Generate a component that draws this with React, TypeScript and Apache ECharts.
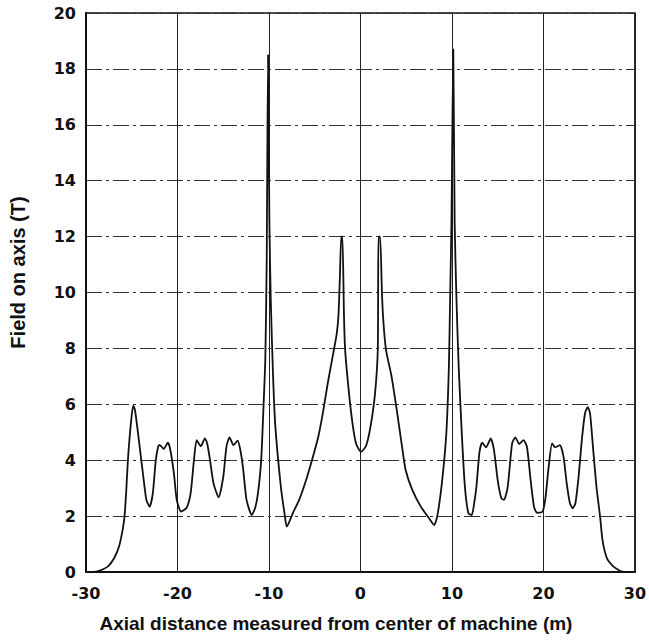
import React, { useEffect, useRef } from "react";
import * as echarts from "echarts";

// Axial distance (m), field on axis (T)
const outerLeft: [number, number][] = [
  [-30, 0], [-29.2, 0.0], [-28.5, 0.05], [-27.6, 0.2], [-26.93, 0.49], [-26.4, 0.9],
  [-26.0, 1.5], [-25.79, 1.98], [-25.6, 2.9], [-25.42, 4.0], [-25.1, 5.3], [-24.84, 5.95],
  [-24.65, 5.8], [-24.31, 4.96], [-23.78, 3.53], [-23.4, 2.58], [-23.04, 2.34], [-22.7, 2.8],
  [-22.37, 4.0], [-22.1, 4.5], [-21.95, 4.55], [-21.5, 4.4], [-21.05, 4.63], [-20.8, 4.4],
  [-20.39, 3.53], [-20.08, 2.58], [-19.6, 2.16], [-19.0, 2.3], [-18.56, 2.82], [-18.2, 4.0],
  [-17.9, 4.72], [-17.45, 4.5], [-17.0, 4.78], [-16.75, 4.6], [-16.44, 4.0], [-16.06, 3.17],
  [-15.5, 2.67], [-14.99, 3.41], [-14.65, 4.48], [-14.31, 4.82], [-13.88, 4.54], [-13.42, 4.7],
  [-13.15, 4.4], [-12.85, 3.77], [-12.45, 2.58], [-11.88, 2.04], [-11.5, 2.3], [-11.2, 2.82],
  [-10.85, 4.0], [-10.58, 6.04], [-10.4, 7.6], [-10.25, 11], [-10.1, 18.5], [-9.95, 12.5],
  [-9.8, 9.7], [-9.55, 7.0], [-9.3, 5.2], [-8.7, 3.05], [-8.3, 2.1], [-8.05, 1.62],
];

const centre: [number, number][] = [
  [-7.4, 2.1], [-6.7, 2.58], [-6.0, 3.23], [-5.3, 4.0], [-4.6, 4.85], [-4.1, 5.7],
  [-3.6, 6.7], [-3.1, 7.6], [-2.6, 8.5], [-2.4, 9.2], [-2.25, 10.5], [-2.1, 12],
  [-1.97, 12], [-1.8, 9.2], [-1.67, 7.94], [-1.25, 6.4], [-0.86, 5.3], [-0.48, 4.6],
  [0.06, 4.3], [0.6, 4.5], [1.1, 5.2], [1.6, 6.4], [1.9, 8.0], [1.97, 12], [2.15, 12],
  [2.35, 10.0], [2.5, 9.0], [2.8, 7.94], [3.4, 7.0], [3.97, 5.8], [4.55, 4.48],
  [4.94, 3.65], [5.68, 2.93], [6.6, 2.34], [7.5, 1.92], [8.06, 1.68],
];

const outerRight: [number, number][] = [
  [8.4, 2.0], [8.9, 3.17], [9.39, 4.96], [9.67, 7.35], [9.8, 9.7], [9.95, 12.5],
  [10.15, 18.7], [10.3, 12.5], [10.5, 9.73], [10.74, 7.35], [11.08, 4.96], [11.42, 3.05],
  [11.8, 2.1], [12.17, 2.04], [12.45, 2.5], [12.68, 3.05], [13.0, 4.25], [13.3, 4.63],
  [13.74, 4.46], [14.24, 4.78], [14.6, 4.36], [15.0, 3.3], [15.4, 2.64], [15.7, 2.58],
  [16.1, 3.05], [16.58, 4.6], [16.93, 4.82], [17.36, 4.58], [17.82, 4.72], [18.2, 4.48],
  [18.6, 3.3], [18.97, 2.34], [19.3, 2.12], [19.9, 2.16], [20.2, 2.58], [20.58, 3.77],
  [20.95, 4.6], [21.3, 4.46], [21.8, 4.54], [22.2, 4.13], [22.55, 3.17], [22.9, 2.46],
  [23.2, 2.28], [23.5, 2.46], [23.85, 3.41], [24.2, 4.72], [24.55, 5.68], [24.85, 5.9],
  [25.1, 5.68], [25.45, 4.36], [25.8, 3.05], [26.2, 1.98], [26.46, 1.14], [26.95, 0.49],
  [27.67, 0.19], [28.6, 0.01], [29.66, 0], [30, 0],
];

const xTitle = "Axial distance measured from center of machine (m)";
const yTitle = "Field on axis (T)";

export default function App() {
  const ref = useRef<HTMLDivElement>(null);
  useEffect(() => {
    if (!ref.current) return;
    const chart = echarts.init(ref.current, undefined, { renderer: "svg" });
    const data = [...outerLeft, ...centre, ...outerRight];
    chart.setOption({
      animation: false,
      backgroundColor: "#ffffff",
      grid: {
        left: 86,
        right: 6,
        top: 13,
        bottom: 68,
        show: true,
        borderColor: "#111",
        borderWidth: 1.5,
        backgroundColor: "transparent",
      },
      xAxis: {
        type: "value",
        min: -30,
        max: 30,
        interval: 10,
        name: xTitle,
        nameLocation: "middle",
        nameGap: 42,
        nameTextStyle: {
          fontFamily: "Liberation Sans, Arial, sans-serif",
          fontWeight: "bold",
          fontSize: 19,
          color: "#111",
          padding: [0, 49, 0, 0],
        },
        axisLine: { show: true, onZero: false, lineStyle: { color: "#111", width: 2 } },
        axisTick: { show: false },
        axisLabel: {
          margin: 13,
          fontFamily: "DejaVu Sans, sans-serif",
          fontWeight: "bold",
          fontSize: 16,
          color: "#111",
        },
        splitLine: { show: true, lineStyle: { color: "#222", width: 1, type: "solid" } },
      },
      yAxis: {
        type: "value",
        min: 0,
        max: 20,
        interval: 2,
        name: yTitle,
        nameLocation: "middle",
        nameGap: 58,
        nameRotate: 90,
        nameTextStyle: {
          fontFamily: "Liberation Sans, Arial, sans-serif",
          fontWeight: "bold",
          fontSize: 20,
          color: "#111",
          padding: [0, 0, 0, 40],
        },
        axisLine: { show: true, onZero: false, lineStyle: { color: "#111", width: 2 } },
        axisTick: { show: false },
        axisLabel: {
          margin: 10,
          fontFamily: "DejaVu Sans, sans-serif",
          fontWeight: "bold",
          fontSize: 16,
          color: "#111",
        },
        splitLine: {
          show: true,
          lineStyle: { color: "#333", width: 1, type: [16, 4, 3, 4] },
        },
      },
      series: [
        {
          type: "line",
          data,
          showSymbol: false,
          smooth: 0.2,
          lineStyle: { color: "#111", width: 1.8 },
          z: 5,
        },
      ],
    });
    return () => chart.dispose();
  }, []);
  return (
    <div
      ref={ref}
      style={{ position: "fixed", left: 0, top: 0, width: 649, height: 640, background: "#fff" }}
    />
  );
}
